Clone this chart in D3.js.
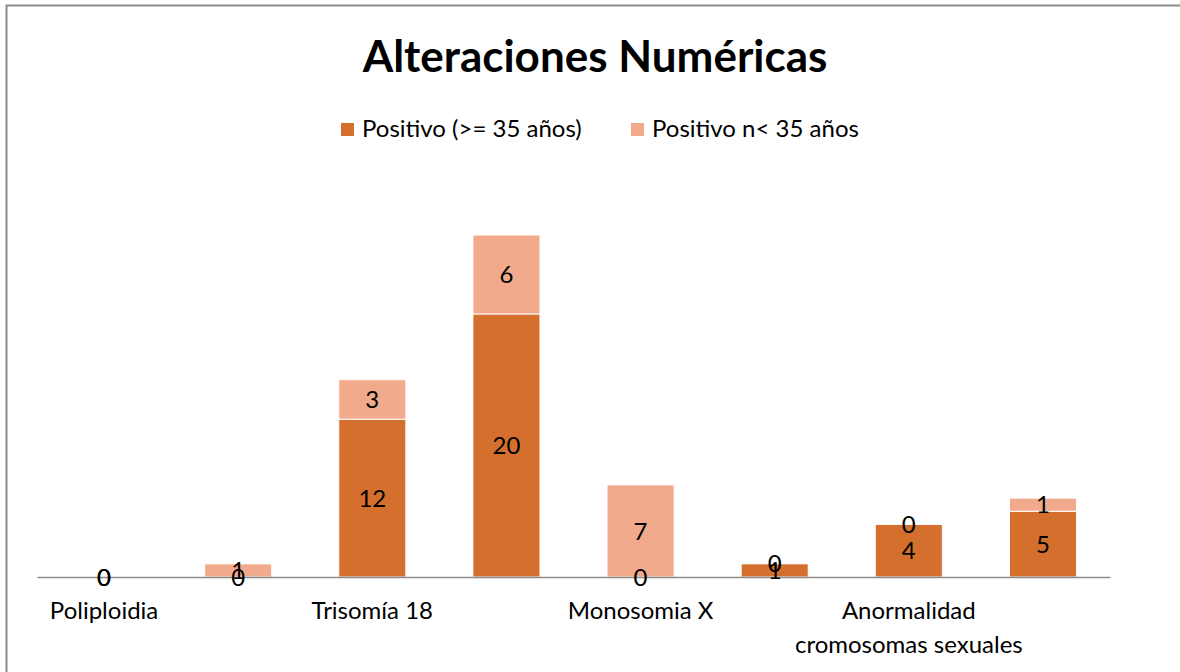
<!DOCTYPE html>
<html>
<head>
<meta charset="utf-8">
<script src="https://cdn.jsdelivr.net/npm/d3@7"></script>
<style>
  body { margin: 0; background: #fff; }
  svg { display: block; font-family: Lato, "Open Sans", sans-serif; }
</style>
</head>
<body>
<svg class="chart"></svg>
<script>
// data
var categories = ["Poliploidia", "c2", "Trisomía 18", "c4", "Monosomia X", "c6", "Anormalidad cromosomas sexuales", "c8"];
// Excel only printed every other label
var tickLabels = [["Poliploidia"], [], ["Trisomía 18"], [], ["Monosomia X"], [], ["Anormalidad", "cromosomas sexuales"], []];
var seriesNames = ["Positivo (>= 35 años)", "Positivo n< 35 años"];
var mayores = [0, 0, 12, 20, 0, 1, 4, 5];
var menores = [0, 1, 3, 6, 7, 0, 0, 1];
var colors = ["#D46F2D", "#F2AA8C"];

var W = 1180, H = 672;
var margin = {top: 160, right: 70, bottom: 95, left: 37},
    width = W - margin.left - margin.right,
    height = H - margin.top - margin.bottom;

var chart = d3.select('.chart')
    .attr('width', W)
    .attr('height', H);

// outer frame (runs off right and bottom edge)
chart.append('rect')
    .attr('x', 6.5).attr('y', 5.5)
    .attr('width', W).attr('height', H)
    .attr('fill', 'none')
    .attr('stroke', '#8c8c8c')
    .attr('stroke-width', 2);

chart.append('text')
    .attr('x', 595).attr('y', 72)
    .attr('text-anchor', 'middle')
    .attr('font-size', 44)
    .attr('font-weight', 'bold')
    .text('Alteraciones Numéricas');

var x = d3.scaleBand().domain(categories).range([0, width]).paddingInner(0.5).paddingOuter(0.25),
    y = d3.scaleLinear().domain([0, 26]).range([height, height - 342]);

var g = chart.append('g')
    .attr('transform', 'translate(' + margin.left + ',' + margin.top + ')');

var rows = categories.map(function(c, i) { return {cat: c, a: mayores[i], b: menores[i]}; });
var stack = d3.stack().keys(['a', 'b'])(rows);

var layers = g.selectAll('.layer')
    .data(stack)
  .enter().append('g')
    .attr('class', 'layer')
    .attr('fill', function(d, i) { return colors[i]; });

layers.selectAll('rect')
    .data(function(d) { return d; })
  .enter().append('rect')
    .attr('x', function(d) { return x(d.data.cat); })
    .attr('y', function(d) { return y(d[1]); })
    .attr('height', function(d) { return y(d[0]) - y(d[1]); })
    .attr('width', x.bandwidth())
    .attr('stroke', '#fff')
    .attr('stroke-width', function(d) { return d[1] > d[0] ? 1 : 0; });

// axis line
g.append('g')
    .attr('class', 'axis axis--x')
    .attr('transform', 'translate(0,' + height + ')')
    .call(d3.axisBottom(x).tickSize(0).tickSizeOuter(0).tickFormat(''))
    .call(function(s) { s.select('.domain').attr('stroke', '#8c8c8c').attr('stroke-width', 1.5); });

// category labels
g.selectAll('.xlab')
    .data(categories)
  .enter().append('text')
    .attr('class', 'xlab')
    .attr('text-anchor', 'middle')
    .attr('font-size', 24)
    .attr('transform', function(d) { return 'translate(' + (x(d) + x.bandwidth() / 2) + ',' + (height + 42) + ')'; })
    .selectAll('tspan')
    .data(function(d, i) { return tickLabels[i]; })
  .enter().append('tspan')
    .attr('x', 0)
    .attr('dy', function(d, i) { return i ? 34 : 0; })
    .text(function(d) { return d; });

// value labels in the middle of each segment, drawn above all bars
var labels = g.append('g');
stack.forEach(function(layer) {
  labels.selectAll(null)
      .data(layer)
    .enter().append('text')
      .attr('fill', '#000')
      .attr('text-anchor', 'middle')
      .attr('font-size', 24)
      .attr('dy', '0.36em')
      .attr('x', function(d) { return x(d.data.cat) + x.bandwidth() / 2; })
      .attr('y', function(d) { return (y(d[0]) + y(d[1])) / 2; })
      .text(function(d) { return d[1] - d[0]; });
});

// legend
var legend = chart.append('g').attr('transform', 'translate(341,129)');
var legX = [0, 290];
seriesNames.forEach(function(name, i) {
  legend.append('rect')
      .attr('x', legX[i]).attr('y', -6)
      .attr('width', 13).attr('height', 13)
      .attr('fill', colors[i]);
  legend.append('text')
      .attr('x', legX[i] + 21).attr('y', 0)
      .attr('dy', '0.35em')
      .attr('font-size', 24)
      .text(name);
});
</script>
</body>
</html>
